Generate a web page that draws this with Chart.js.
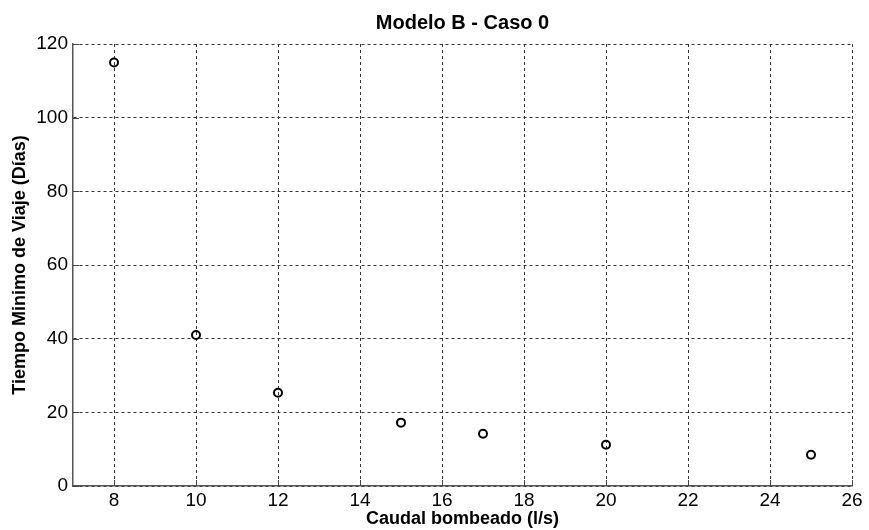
<!DOCTYPE html>
<html>
<head>
<meta charset="utf-8">
<script src="https://cdn.jsdelivr.net/npm/chart.js@4"></script>
<style>
  html, body { margin: 0; padding: 0; background: #fff; }
  canvas { display: block; }
</style>
</head>
<body>
<canvas id="chart" width="869" height="530"></canvas>
<script>
// Datos
const caudal = [8, 10, 12, 15, 17, 20, 25];
const tiempo = [115, 41, 25.3, 17.2, 14.2, 11.2, 8.5];
const xTicks = [8, 10, 12, 14, 16, 18, 20, 22, 24, 26];
const yTicks = [0, 20, 40, 60, 80, 100, 120];

const FONT = "'Liberation Sans', Arial, sans-serif";

// MATLAB style inner tick marks on left and bottom axes
const innerTicks = {
  id: "innerTicks",
  afterDatasetsDraw(chart) {
    const { ctx, chartArea, scales } = chart;
    ctx.save();
    ctx.strokeStyle = "#444";
    ctx.lineWidth = 1;
    scales.y.ticks.forEach((t) => {
      const y = Math.round(scales.y.getPixelForValue(t.value)) + 0.5;
      ctx.beginPath();
      ctx.moveTo(chartArea.left, y);
      ctx.lineTo(chartArea.left + 6, y);
      ctx.stroke();
    });
    scales.x.ticks.forEach((t) => {
      const x = Math.round(scales.x.getPixelForValue(t.value)) + 0.5;
      ctx.beginPath();
      ctx.moveTo(x, chartArea.bottom);
      ctx.lineTo(x, chartArea.bottom - 6);
      ctx.stroke();
    });
    ctx.restore();
  },
};

new Chart(document.getElementById("chart"), {
  type: "scatter",
  data: {
    datasets: [
      {
        data: caudal.map((x, i) => ({ x: x, y: tiempo[i] })),
        pointStyle: "circle",
        pointRadius: 4,
        pointBorderWidth: 2,
        borderColor: "#000",
        backgroundColor: "rgba(0,0,0,0)",
      },
    ],
  },
  options: {
    responsive: false,
    animation: false,
    layout: { padding: { left: 0, right: 17, top: 0, bottom: 0 } },
    plugins: {
      legend: { display: false },
      tooltip: { enabled: false },
      title: {
        display: true,
        text: "Modelo B - Caso 0",
        fullSize: false,
        color: "#000",
        font: { family: FONT, size: 20, weight: "bold" },
        padding: { top: 11, bottom: 9 },
      },
    },
    scales: {
      x: {
        type: "linear",
        min: 7,
        max: 26,
        afterBuildTicks: (scale) => {
          scale.ticks = xTicks.map((v) => ({ value: v }));
        },
        afterFit: (scale) => {
          scale.height = 44;
        },
        ticks: {
          color: "#000",
          padding: 3,
          font: { family: FONT, size: 19 },
        },
        grid: {
          color: "#333",
          lineWidth: 1,
          drawTicks: false,
        },
        border: { display: true, color: "#555", width: 1.5, dash: [3, 3] },
        title: {
          display: true,
          text: "Caudal bombeado (l/s)",
          color: "#000",
          font: { family: FONT, size: 18, weight: "bold" },
          padding: { top: 0, bottom: 0 },
        },
      },
      y: {
        type: "linear",
        min: 0,
        max: 120,
        afterBuildTicks: (scale) => {
          scale.ticks = yTicks.map((v) => ({ value: v }));
        },
        afterFit: (scale) => {
          scale.width = 73;
        },
        ticks: {
          color: "#000",
          padding: 5,
          font: { family: FONT, size: 19 },
        },
        grid: {
          color: "#333",
          lineWidth: 1,
          drawTicks: false,
        },
        border: { display: true, color: "#555", width: 1.5, dash: [3, 3] },
        title: {
          display: true,
          text: "Tiempo Minimo de Viaje (Días)",
          color: "#000",
          font: { family: FONT, size: 18, weight: "bold" },
          padding: { top: 9, bottom: 0 },
        },
      },
    },
  },
  plugins: [innerTicks],
});
</script>
</body>
</html>
